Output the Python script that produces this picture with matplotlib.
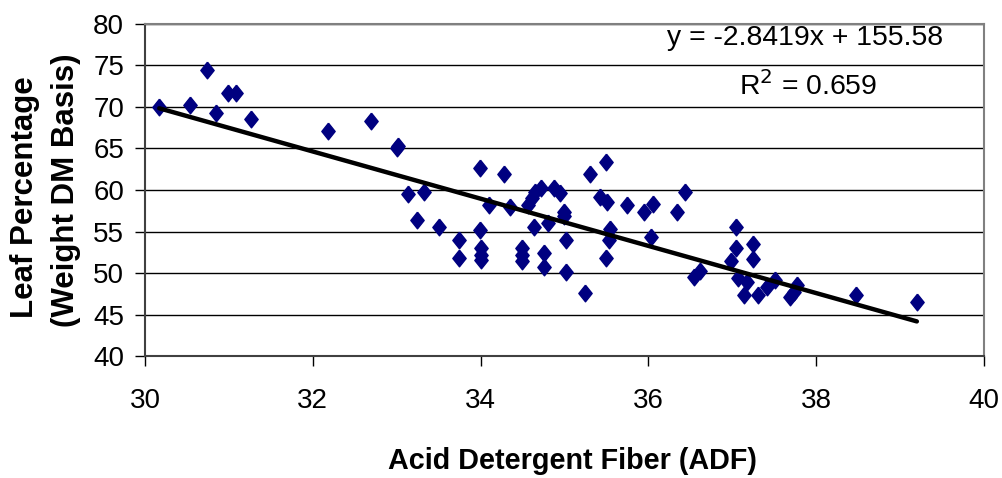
import numpy as np
import matplotlib
matplotlib.use('Agg')
import matplotlib.pyplot as plt

plt.rcParams['font.family'] = ['Liberation Sans', 'DejaVu Sans']

# ADF vs leaf percentage
adf = [30.17, 30.54, 30.74, 30.85, 30.99, 31.09, 31.26, 32.18, 32.69,
       33.0, 33.01, 33.14, 33.32, 33.24, 33.50, 33.74, 33.74,
       33.99, 33.99, 34.0, 34.0, 34.0, 34.10, 34.28, 34.35,
       34.49, 34.49, 34.49, 34.57, 34.61, 34.65, 34.72, 34.64, 34.80,
       34.75, 34.75, 34.88, 34.95, 35.0, 35.0, 35.02, 35.02, 35.24,
       35.30, 35.50, 35.42, 35.51, 35.54, 35.53, 35.50,
       35.74, 35.95, 36.06, 36.03, 36.34, 36.44, 36.54, 36.61,
       37.04, 37.04, 36.99, 37.07, 37.17, 37.25, 37.25, 37.14, 37.31,
       37.41, 37.51, 37.69, 37.77, 37.73, 38.47, 39.20]
leaf = [70.0, 70.24, 74.46, 69.3, 71.7, 71.7, 68.6, 67.1, 68.35,
        65.0, 65.3, 59.5, 59.7, 56.4, 55.5, 54.0, 51.8,
        62.6, 55.2, 53.0, 52.2, 51.6, 58.2, 61.9, 57.9,
        52.97, 52.2, 51.4, 58.2, 59.0, 59.7, 60.3, 55.6, 56.0,
        52.45, 50.7, 60.3, 59.6, 57.4, 56.9, 54.0, 50.1, 47.55,
        61.9, 63.4, 59.2, 58.6, 55.3, 54.0, 51.85,
        58.2, 57.4, 58.3, 54.3, 57.3, 59.8, 49.55, 50.2,
        55.5, 53.05, 51.45, 49.35, 48.95, 53.45, 51.7, 47.4, 47.35,
        48.3, 49.15, 47.15, 48.55, 47.75, 47.35, 46.55]

slope, intercept = -2.8419, 155.58
x_ticks = [30, 32, 34, 36, 38, 40]
y_ticks = [40, 45, 50, 55, 60, 65, 70, 75, 80]

fig = plt.figure(figsize=(10.02, 4.78), dpi=100)
ax = fig.add_axes([0.1447, 0.255, 0.8373, 0.695])

ax.set_xlim(30, 40)
ax.set_ylim(40, 80)
ax.set_xticks(x_ticks)
ax.set_yticks(y_ticks)
ax.yaxis.grid(True, color='black', linewidth=1.0)
ax.set_axisbelow(True)

diamond = [(0, 1), (0.8, 0), (0, -1), (-0.8, 0), (0, 1)]
ax.plot(adf, leaf, linestyle='none', marker=diamond, markersize=12,
        color='#000080', zorder=3)

# linear trend line over the data range
xs = np.array([min(adf), max(adf)])
ax.plot(xs, slope * xs + intercept, color='black', linewidth=3.2,
        solid_capstyle='round', zorder=4)

for side in ['top', 'right']:
    ax.spines[side].set_color('#808080')
    ax.spines[side].set_linewidth(1.5)
for side in ['left', 'bottom']:
    ax.spines[side].set_color('#404040')
    ax.spines[side].set_linewidth(1.5)

ax.tick_params(axis='both', direction='out', length=7, width=1,
               labelsize=20, colors='black')
ax.tick_params(axis='x', pad=16)
ax.tick_params(axis='y', pad=8)

fig.text(0.571, 1 - 469 / 478, 'Acid Detergent Fiber (ADF)', ha='center',
         va='baseline', fontsize=20.7, fontweight='bold')
fig.text(25 / 1002, 1 - 197 / 478, 'Leaf Percentage', rotation=90,
         ha='center', va='center', fontsize=22.5, fontweight='bold')
fig.text(66 / 1002, 1 - 190 / 478, '(Weight DM Basis)', rotation=90,
         ha='center', va='center', fontsize=22.5, fontweight='bold')

fig.text(805 / 1002, 1 - 45 / 478, 'y = -2.8419x + 155.58',
         ha='center', va='baseline', fontsize=20.4)
fig.text(808 / 1002, 1 - 95 / 478, 'R$^2$ = 0.659',
         ha='center', va='baseline', fontsize=20.4)

fig.savefig('out.png', dpi=100)
